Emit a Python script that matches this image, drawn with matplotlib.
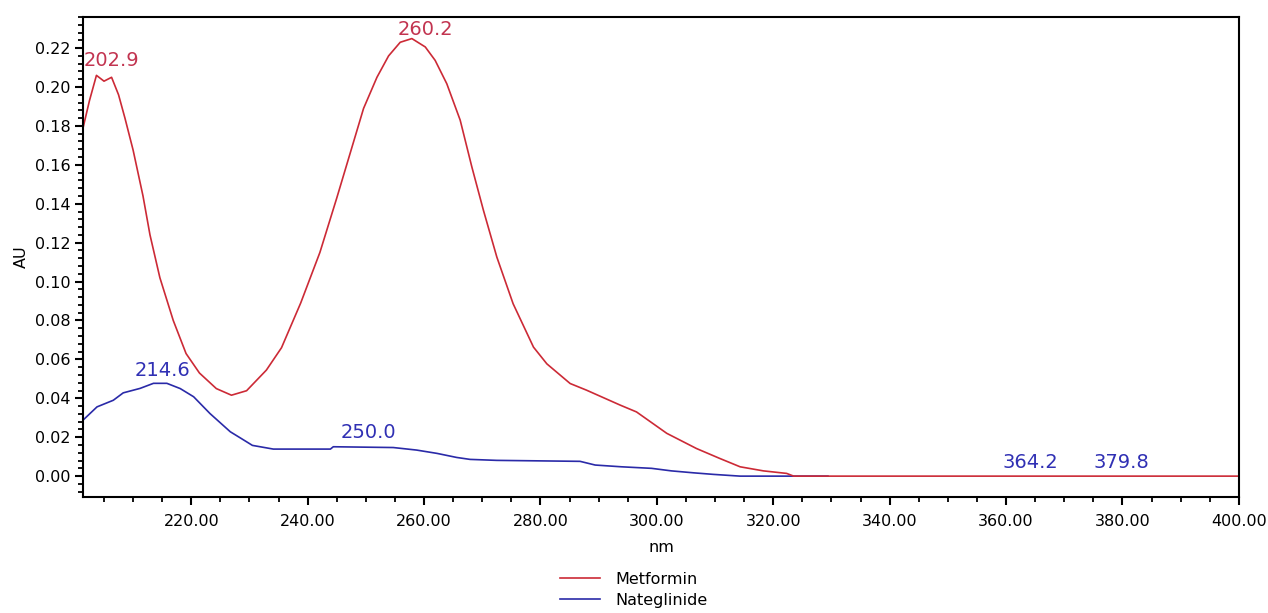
import matplotlib
matplotlib.use("Agg")
import matplotlib.pyplot as plt
from matplotlib.ticker import MultipleLocator, FormatStrFormatter

# Metformin spectrum (nm, AU)
met_nm = [201.4, 202.5, 203.7, 205.0, 206.3, 207.5, 208.6, 210.0, 211.7, 212.9, 214.6,
          216.9, 219.1, 221.4, 224.3, 226.9, 229.5, 232.9, 235.5, 238.8, 242.1, 245.0,
          247.8, 249.6, 251.9, 253.9, 255.9, 257.9, 260.2, 261.9, 263.9, 266.2, 268.2,
          270.2, 272.5, 275.3, 278.8, 281.1, 285.1, 287.9, 293.7, 296.5, 301.7, 306.8,
          310.8, 314.3, 318.3, 322.3, 323.5, 340.0, 360.0, 380.0, 400.0]
met_au = [0.179, 0.193, 0.206, 0.203, 0.205, 0.196, 0.184, 0.1676, 0.144, 0.124, 0.102,
          0.080, 0.063, 0.053, 0.045, 0.0416, 0.0439, 0.0545, 0.066, 0.089, 0.115, 0.143,
          0.171, 0.189, 0.205, 0.216, 0.223, 0.2249, 0.2206, 0.2137, 0.2017, 0.183, 0.159,
          0.1366, 0.1126, 0.0886, 0.0663, 0.0577, 0.0476, 0.0442, 0.0365, 0.033, 0.022, 0.0142,
          0.0091, 0.0048, 0.0027, 0.0014, 0.0, 0.0, 0.0, 0.0, 0.0]

# Nateglinide spectrum (nm, AU)
nat_nm = [201.4, 203.8, 206.6, 208.3, 211.2, 213.5, 215.8, 218.1, 220.4, 223.2, 226.7,
          228.5, 230.5, 234.1, 243.9, 244.4, 254.7, 258.7, 262.2, 265.6, 267.9, 272.5,
          286.8, 289.4, 293.9, 299.1, 302.5, 306.3, 309.7, 314.3, 329.4]
nat_au = [0.0288, 0.0356, 0.039, 0.0428, 0.0451, 0.0477, 0.0477, 0.045, 0.0408, 0.0322, 0.0228,
          0.0195, 0.0158, 0.0139, 0.0139, 0.0151, 0.0147, 0.0134, 0.0117, 0.0096, 0.0086, 0.0081,
          0.0076, 0.0057, 0.0048, 0.004, 0.0027, 0.0017, 0.0009, 0.0, 0.0]

# Peak labels: (text, x, y, series)
peak_text = ["202.9", "260.2", "214.6", "250.0", "364.2", "379.8"]
peak_x = [206.2, 260.2, 215.1, 250.4, 364.1, 379.8]
peak_y = [0.2135, 0.2295, 0.0545, 0.0222, 0.0072, 0.0072]
peak_series = ["met", "met", "nat", "nat", "nat", "nat"]

series_names = ["Metformin", "Nateglinide"]
RED = "#cc2a36"
BLUE = "#2a2aa8"
RED_TXT = "#c23450"
BLUE_TXT = "#3030b4"

plt.rcParams["font.family"] = ["DejaVu Sans"]

fig = plt.figure(figsize=(12.68, 6.13), dpi=100)
ax = fig.add_axes([0.0655, 0.189, 0.9115, 0.7833])

l1, = ax.plot(nat_nm, nat_au, color=BLUE, lw=1.2, label=series_names[1])
l2, = ax.plot(met_nm, met_au, color=RED, lw=1.2, label=series_names[0])

for t, x, y, s in zip(peak_text, peak_x, peak_y, peak_series):
    ax.text(x, y, t, color=RED_TXT if s == "met" else BLUE_TXT, fontsize=14,
            ha="center", va="center")

ax.set_xlim(201.4, 400.0)
ax.set_ylim(-0.0108, 0.236)
ax.xaxis.set_major_locator(MultipleLocator(20))
ax.xaxis.set_minor_locator(MultipleLocator(5))
ax.yaxis.set_major_locator(MultipleLocator(0.02))
ax.yaxis.set_minor_locator(MultipleLocator(0.004))
ax.xaxis.set_major_formatter(FormatStrFormatter("%.2f"))
ax.yaxis.set_major_formatter(FormatStrFormatter("%.2f"))
ax.tick_params(axis="both", which="major", length=6, width=1.5, labelsize=11.5,
               direction="out", colors="black", pad=3)
ax.tick_params(axis="x", which="major", pad=6)
ax.tick_params(axis="both", which="minor", length=3.5, width=1.3, direction="out")
for sp in ax.spines.values():
    sp.set_linewidth(1.5)
    sp.set_color("black")

ax.set_xlabel("nm", fontsize=11.5, labelpad=8)
ax.set_ylabel("AU", fontsize=11.5, labelpad=4)

fig.legend(handles=[l2, l1], labels=series_names, loc="center",
           bbox_to_anchor=(0.5, 0.038), frameon=False, fontsize=11.5,
           handlelength=2.5, handletextpad=1.0, labelspacing=0.35, borderpad=0)

fig.savefig("out.png", dpi=100)
